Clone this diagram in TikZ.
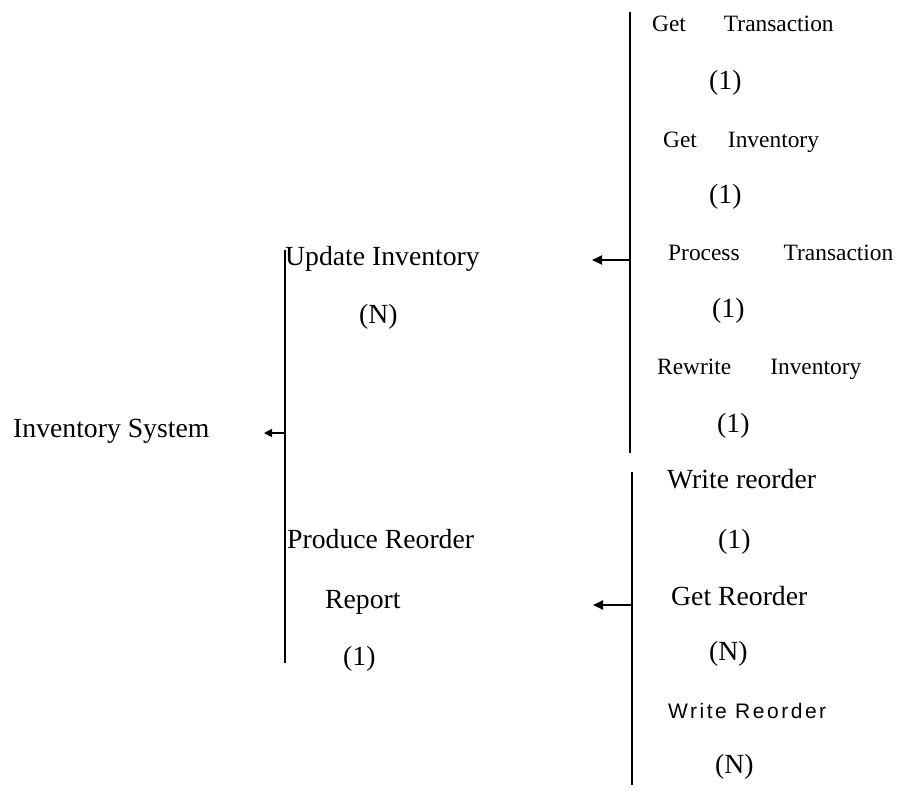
\documentclass[tikz,border=0pt]{standalone}
\usepackage{fontspec}
\setmainfont{Liberation Serif}
\newfontfamily\spacedsans[LetterSpace=12]{Liberation Sans}
\usetikzlibrary{arrows.meta}
\tikzset{
  lbl/.style={anchor=base west, inner sep=0pt, font=\fontsize{27.7}{30}\selectfont},
  lblsmall/.style={anchor=base west, inner sep=0pt, font=\fontsize{23.4}{26}\selectfont},
  bar/.style={line width=2pt},
  conn/.style={line width=2pt, -{Triangle[length=10pt,width=9pt]}}
}
\begin{document}
\begin{tikzpicture}[x=1pt,y=-1pt]
\useasboundingbox (0,0) rectangle (900,796);
% left level
\node[lbl] (sys) at (13,437) {Inventory System};
\coordinate (lt) at (285,250);
\coordinate (lb) at (285,663);
\coordinate (lm) at (285,433);
\coordinate (la) at (264,433);
\draw[bar] (lt) -- (lb);
\draw[line width=1.6pt, -{Triangle[length=8pt,width=8pt]}] (lm) -- (la);
\node[lbl] (upd) at (285,265) {Update Inventory};
\node[lbl] (updn) at (359,323) {(N)};
\node[lbl] (prod) at (287,548) {Produce Reorder};
\node[lbl] (rep) at (325,608) {Report};
\node[lbl] (prod1) at (343,665) {(1)};
% upper right
\coordinate (ut) at (630,12);
\coordinate (ub) at (630,453);
\coordinate (um) at (630,260);
\coordinate (ua) at (592,260);
\draw[bar] (ut) -- (ub);
\draw[conn] (um) -- (ua);
\node[lblsmall] (gt) at (652,31) {Get\hspace{38pt}Transaction};
\node[lbl] (gt1) at (709,89) {(1)};
\node[lblsmall] (gi) at (663,147) {Get\hspace{31pt}Inventory};
\node[lbl] (gi1) at (709,203) {(1)};
\node[lblsmall] (pt) at (668,260) {Process\hspace{44pt}Transaction};
\node[lbl] (pt1) at (712,317) {(1)};
\node[lblsmall] (ri) at (657,374) {Rewrite\hspace{39pt}Inventory};
\node[lbl] (ri1) at (717,432) {(1)};
% lower right
\coordinate (rt) at (632,472);
\coordinate (rb) at (632,785);
\coordinate (rm) at (632,605);
\coordinate (ra) at (593,605);
\draw[bar] (rt) -- (rb);
\draw[conn] (rm) -- (ra);
\node[lbl] (wr) at (667,488) {Write reorder};
\node[lbl] (wr1) at (718,548) {(1)};
\node[lbl] (gr) at (671,605) {Get Reorder};
\node[lbl] (grn) at (709,660) {(N)};
\node[anchor=base west, inner sep=0pt, font=\spacedsans\fontsize{21}{24}\selectfont] (wr2) at (668,718) {Write Reorder};
\node[lbl] (wr2n) at (715,773) {(N)};
\end{tikzpicture}
\end{document}
